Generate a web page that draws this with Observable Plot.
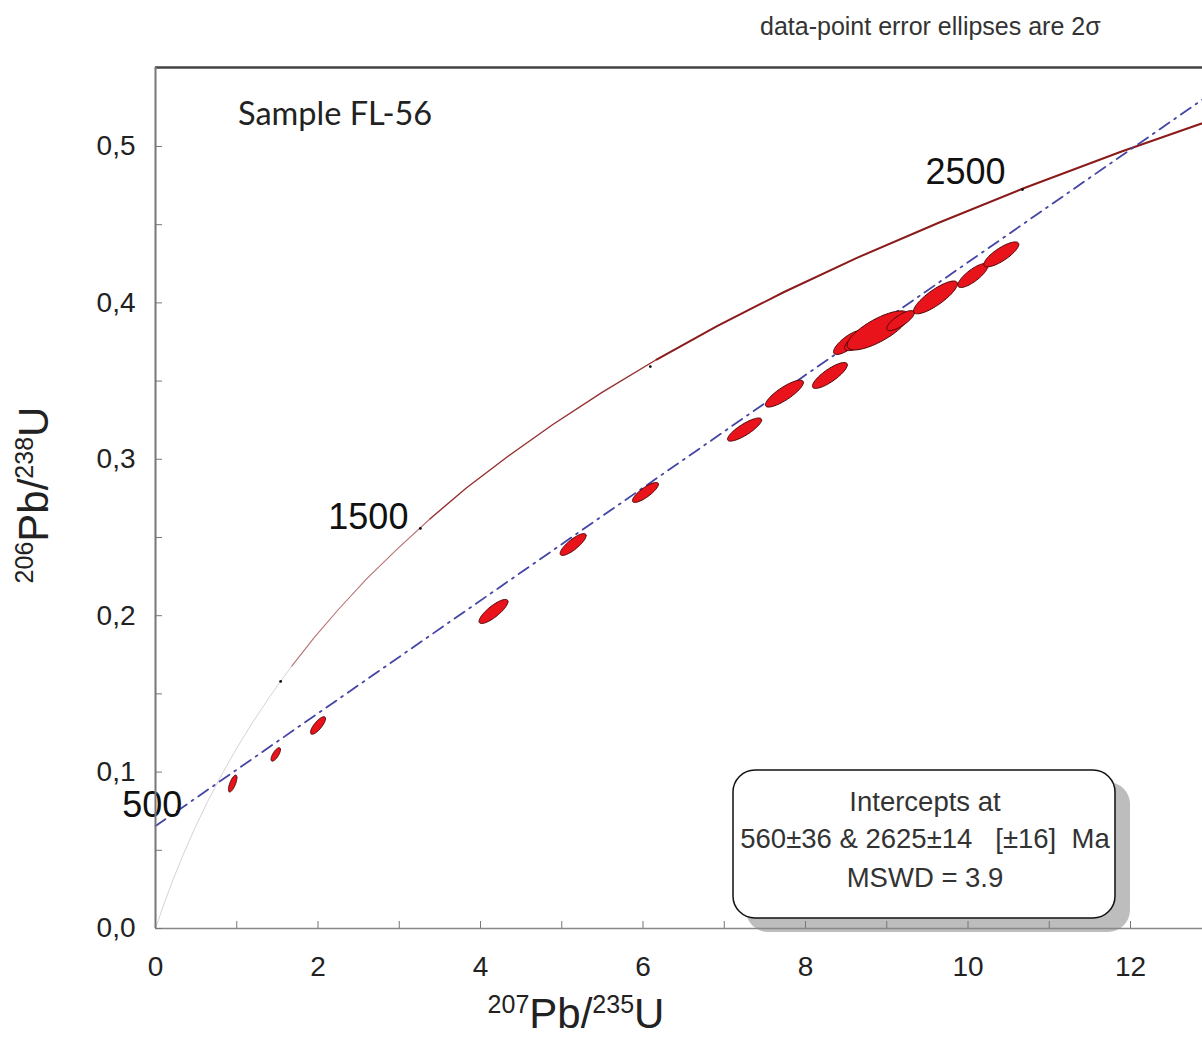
<!DOCTYPE html>
<html><head><meta charset="utf-8">
<script src="https://cdn.jsdelivr.net/npm/d3@7"></script>
<script src="https://cdn.jsdelivr.net/npm/@observablehq/plot@0.6"></script>
<style>body{margin:0;background:#fff}</style>
</head><body><div id="chart"></div>
<script>
// Concordia curve, points (age in Ma, 207Pb/235U, 206Pb/238U)
const concAge = [0,100,200,300,400,500,600,700,800,900,1000,1100,1200,1300,1400,1500,1600,1700,1800,1900,2000,2100,2200,2300,2400,2500,2600,2700];
const concX = [0,0.1035,0.218,0.344,0.483,0.637,0.806,0.993,1.199,1.426,1.677,1.955,2.262,2.598,2.974,3.380,3.829,4.335,4.886,5.496,6.167,6.911,7.730,8.633,9.632,10.71,11.89,13.18];
const concY = [0,0.0156,0.0315,0.0476,0.0640,0.0807,0.0975,0.1147,0.1321,0.1498,0.1678,0.1861,0.2046,0.2235,0.2426,0.2620,0.2818,0.3018,0.3221,0.3428,0.3638,0.3851,0.4068,0.4288,0.4511,0.4738,0.4968,0.5202];
// age tick marks on the concordia
const ageTickX = [1.54, 3.26, 6.09, 10.67];
const ageTickY = [0.158, 0.2558, 0.3593, 0.4725];
// age labels
const ageLabels = ["500", "1500", "2500"];
const ageLabelX = [-0.04, 2.62, 9.97];
const ageLabelY = [0.0786, 0.2628, 0.4834];
// discordia (regression line)
const discX = [0, 12.886];
const discY = [0.0655, 0.530];
// data-point error ellipses (centre, 2-sigma half widths, error correlation)
const ellX   = [0.95, 1.48, 2.00, 4.16, 5.14, 6.03, 7.25, 7.74, 8.30, 8.53, 8.75, 8.89, 9.17, 9.60, 10.06, 10.41];
const ellY   = [0.0927, 0.1113, 0.1298, 0.2027, 0.2455, 0.2788, 0.3190, 0.3420, 0.3536, 0.3747, 0.3785, 0.3824, 0.3887, 0.4035, 0.4175, 0.4310];
const ellSX  = [0.052, 0.058, 0.092, 0.178, 0.160, 0.160, 0.210, 0.234, 0.215, 0.185, 0.270, 0.378, 0.170, 0.270, 0.185, 0.215];
const ellSY  = [0.0054, 0.0043, 0.0056, 0.0077, 0.0070, 0.0064, 0.0074, 0.0086, 0.0083, 0.0077, 0.0090, 0.0125, 0.0064, 0.0105, 0.0077, 0.0080];
const ellRho = [0.70, 0.72, 0.78, 0.82, 0.82, 0.82, 0.83, 0.83, 0.82, 0.78, 0.80, 0.76, 0.78, 0.83, 0.80, 0.80];
// axes
const xTicks = [0,1,2,3,4,5,6,7,8,9,10,11,12];
const xTickLabels = [0,2,4,6,8,10,12];
const yTicks = [0,0.05,0.1,0.15,0.2,0.25,0.3,0.35,0.4,0.45,0.5];
const yTickLabels = [0,0.1,0.2,0.3,0.4,0.5];
const xDomain = [0, 12.886];
const yDomain = [0, 0.5505];

const conc = concAge.map((a, i) => ({age: a, x: concX[i], y: concY[i]}));
const seg = (lo, hi) => conc.filter(d => d.age >= lo && d.age <= hi);
const ellPts = [];
ellX.forEach((cx, i) => {
  const n = 72, r = ellRho[i];
  for (let k = 0; k < n; k++) {
    const t = 2 * Math.PI * k / n;
    ellPts.push({id: i, x: cx + ellSX[i] * Math.cos(t),
      y: ellY[i] + ellSY[i] * (r * Math.cos(t) + Math.sqrt(1 - r * r) * Math.sin(t))});
  }
});
const disc = discX.map((x, i) => ({x, y: discY[i]}));
const ticksA = ageTickX.map((x, i) => ({x, y: ageTickY[i]}));
const labelsA = ageLabels.map((t, i) => ({t, x: ageLabelX[i], y: ageLabelY[i]}));

const chart = Plot.plot({
  width: 1202, height: 1039,
  marginLeft: 155, marginRight: 0, marginTop: 67, marginBottom: 111,
  x: {domain: xDomain}, y: {domain: yDomain},
  style: {fontFamily: "'Liberation Sans', Arial, sans-serif", fontSize: "28px", color: "#222", background: "#fff"},
  marks: [
    Plot.line(seg(0, 1000), {x: "x", y: "y", stroke: "#ddd0d0", strokeWidth: 1, clip: true}),
    Plot.line(seg(1000, 1500), {x: "x", y: "y", stroke: "#b87070", strokeWidth: 1.1, clip: true}),
    Plot.line(seg(1500, 2000), {x: "x", y: "y", stroke: "#963030", strokeWidth: 1.4, clip: true}),
    Plot.line(seg(2000, 2700), {x: "x", y: "y", stroke: "#8b1a1a", strokeWidth: 2, clip: true}),
    Plot.line(disc, {x: "x", y: "y", stroke: "#4545a5", strokeWidth: 1.8, strokeDasharray: "12,6,2,6"}),
    Plot.line(ellPts, {x: "x", y: "y", z: "id", curve: "linear-closed", fill: "#e8131b", stroke: "#4d0505", strokeWidth: 1}),
    Plot.dot(ticksA, {x: "x", y: "y", r: 1.4, fill: "#111", stroke: "none"}),
    Plot.text(labelsA, {x: "x", y: "y", text: "t", fontSize: 36, fill: "#111"}),
    Plot.ruleY([yDomain[1]], {stroke: "#444", strokeWidth: 2.5}),
    Plot.ruleX([0], {stroke: "#777", strokeWidth: 2}),
    Plot.ruleY([0], {stroke: "#888", strokeWidth: 1.5}),
    Plot.axisX(xTicks, {tickSize: -7, fill: "none", stroke: "#777", label: null}),
    Plot.axisX(xTickLabels, {tickSize: 0, tickPadding: 28, fontSize: 28, label: null, fill: "#222"}),
    Plot.axisY(yTicks, {tickSize: -7, fill: "none", stroke: "#777", label: null}),
    Plot.axisY(yTickLabels, {tickSize: 0, tickPadding: 20, fontSize: 28, label: null, fill: "#222",
      tickFormat: d => d.toFixed(1).replace(".", ",")})
  ]
});
document.getElementById("chart").appendChild(chart);

const svg = d3.select(chart);
const font = "'Liberation Sans', Arial, sans-serif";
// results box (inserted beneath the axes)
const box = svg.insert("g", ":first-child");
box.append("rect").attr("x", 746).attr("y", 782).attr("width", 384).attr("height", 150).attr("rx", 22)
  .attr("fill", "#bdbdbd");
box.append("rect").attr("x", 733).attr("y", 770).attr("width", 382).attr("height", 148).attr("rx", 22)
  .attr("fill", "#fff").attr("stroke", "#111").attr("stroke-width", 1.5);
const boxLines = ["Intercepts at", "560±36 & 2625±14\u00a0\u00a0\u00a0[±16]\u00a0\u00a0Ma", "MSWD = 3.9"];
const boxBase = [811, 848, 887];
boxLines.forEach((t, i) => box.append("text").attr("x", 925).attr("y", boxBase[i]).attr("text-anchor", "middle")
  .attr("font-family", font).attr("font-size", 27.5).attr("fill", "#333").text(t));
// top note
svg.append("text").attr("x", 760).attr("y", 35).attr("text-anchor", "start").attr("font-family", font)
  .attr("font-size", 25).attr("fill", "#333").text("data-point error ellipses are 2σ");
// sample name
svg.append("text").attr("x", 238).attr("y", 125).attr("text-anchor", "start")
  .attr("font-family", "Lato, 'Open Sans', sans-serif").attr("font-size", 32.5)
  .attr("fill", "#222").text("Sample FL-56");
// axis titles with superscripts
function title(g, sup1, main1, sup2, main2) {
  const t = g.append("text").attr("font-family", font).attr("fill", "#222").attr("text-anchor", "middle");
  t.append("tspan").attr("font-size", 25).attr("dy", -15).text(sup1);
  t.append("tspan").attr("font-size", 42).attr("dy", 15).text(main1);
  t.append("tspan").attr("font-size", 25).attr("dy", -15).text(sup2);
  t.append("tspan").attr("font-size", 42).attr("dy", 15).text(main2);
  return t;
}
title(svg.append("g").attr("transform", "translate(576,1028)"), "207", "Pb/", "235", "U");
title(svg.append("g").attr("transform", "translate(48,495) rotate(-90)"), "206", "Pb/", "238", "U");
</script></body></html>
